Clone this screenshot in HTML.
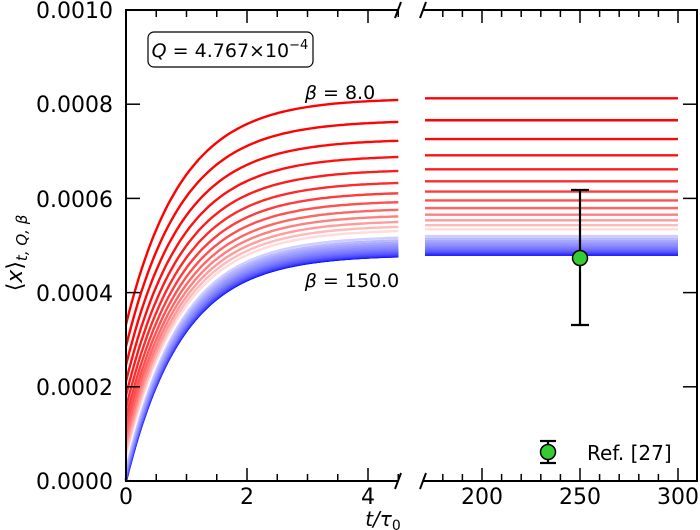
<!DOCTYPE html>
<html><head><meta charset="utf-8"><style>
html,body{margin:0;padding:0;background:#fff;}
svg{display:block;font-family:"DejaVu Sans","Liberation Sans",sans-serif;}
</style></head><body>
<svg id="s" width="700" height="530" viewBox="0 0 700 530" xmlns="http://www.w3.org/2000/svg">
<g id="curves"></g>
<g id="axes" stroke="#000" fill="none" stroke-width="2"></g>
<g font-size="22" fill="#000" text-anchor="end">
<text x="113" y="18">0.0010</text>
<text x="113" y="112">0.0008</text>
<text x="113" y="207">0.0006</text>
<text x="113" y="301">0.0004</text>
<text x="113" y="395">0.0002</text>
<text x="113" y="489">0.0000</text>
</g>
<g font-size="22" fill="#000" text-anchor="middle">
<text x="126" y="504">0</text>
<text x="247" y="504">2</text>
<text x="368" y="504">4</text>
<text x="482" y="504">200</text>
<text x="580" y="504">250</text>
<text x="678" y="504">300</text>
</g>
<text x="383" y="526" font-size="20" text-anchor="middle" font-style="italic">t/τ<tspan font-style="normal" font-size="14" dy="4">0</tspan></text>
<text transform="translate(22,253) rotate(-90)" font-size="22" text-anchor="middle">⟨<tspan font-style="italic">x</tspan>⟩<tspan font-size="15" dy="5" font-style="italic">t, Q, β</tspan></text>
<rect x="148" y="32" width="165" height="35" rx="6" fill="#fff" stroke="#000" stroke-width="1.2"/>
<text x="230" y="57" font-size="19" text-anchor="middle"><tspan font-style="italic">Q</tspan> = 4.767×10<tspan font-size="13" dy="-8">−4</tspan></text>
<text x="340" y="99" font-size="19" text-anchor="middle"><tspan font-style="italic">β</tspan> = 8.0</text>
<text x="352" y="287" font-size="19" text-anchor="middle"><tspan font-style="italic">β</tspan> = 150.0</text>
<g stroke="#000" stroke-width="2.2">
<line x1="580" y1="190" x2="580" y2="325"/>
<line x1="571" y1="190" x2="589" y2="190"/>
<line x1="571" y1="325" x2="589" y2="325"/>
<line x1="548" y1="441" x2="548" y2="463"/>
<line x1="540" y1="441" x2="556" y2="441"/>
<line x1="540" y1="463" x2="556" y2="463"/>
</g>
<circle cx="580" cy="258" r="7.5" fill="#33cc33" stroke="#000" stroke-width="1.5"/>
<circle cx="548" cy="452" r="7.5" fill="#33cc33" stroke="#000" stroke-width="1.5"/>
<text x="587" y="460" font-size="20">Ref. [27]</text>
</svg>
<script>
var NS="http://www.w3.org/2000/svg";
var cg=document.getElementById('curves'),ax=document.getElementById('axes');
function el(p,t,a){var e=document.createElementNS(NS,t);for(var k in a)e.setAttribute(k,a[k]);p.appendChild(e);return e;}
function X(t){return 126+t*60.5;} function Y(v){return 481-v*471000;}
var n=40,pb=0.00048,tau=0.92;
for(var k=n-1;k>=0;k--){
 var yp=255-156.7*Math.pow(0.86,k); var p=(481-yp)/471000;
 var col;
 if(k<=13){var f=k/13;f=Math.pow(f,1.9);col='rgb(255,'+Math.round(255*f)+','+Math.round(255*f)+')';}
 else{var f=(k-13)/(n-1-13);f=Math.pow(f,0.5);col='rgb('+Math.round(255*(1-f))+','+Math.round(255*(1-f))+',255)';}
 var d='';for(var i=0;i<=90;i++){var t=4.5*i/90;var v=p-pb*Math.exp(-t/tau);d+=(i?'L':'M')+X(t).toFixed(1)+','+Y(v).toFixed(1);}
 el(cg,'path',{d:d,stroke:col,'stroke-width':2.4,fill:'none'});
 el(cg,'line',{x1:425,x2:678,y1:yp,y2:yp,stroke:col,'stroke-width':2.4});
}
el(ax,'path',{d:'M398,10 L126,10 L126,481 L398,481'});
el(ax,'path',{d:'M423,10 L697,10 L697,481 L423,481'});
[[398,10],[398,481],[423,10],[423,481]].forEach(function(b){el(ax,'line',{x1:b[0]-3,y1:b[1]+8,x2:b[0]+3,y2:b[1]-8});});
for(var t=0.5;t<=4.5;t+=0.5){var x=X(t),L=(t%2==0)?13:7;el(ax,'line',{x1:x,x2:x,y1:481,y2:481-L,'stroke-width':1.5});el(ax,'line',{x1:x,x2:x,y1:10,y2:10+L,'stroke-width':1.5});}
for(var v=170;v<=300;v+=10){var x=482+(v-200)*1.96,L=(v%50==0)?13:7;if(x<425)continue;el(ax,'line',{x1:x,x2:x,y1:481,y2:481-L,'stroke-width':1.5});el(ax,'line',{x1:x,x2:x,y1:10,y2:10+L,'stroke-width':1.5});}
for(var j=1;j<5;j++){var y=481-j*94.2;el(ax,'line',{x1:126,x2:140,y1:y,y2:y,'stroke-width':1.5});el(ax,'line',{x1:697,x2:683,y1:y,y2:y,'stroke-width':1.5});}
</script>
</body></html>
